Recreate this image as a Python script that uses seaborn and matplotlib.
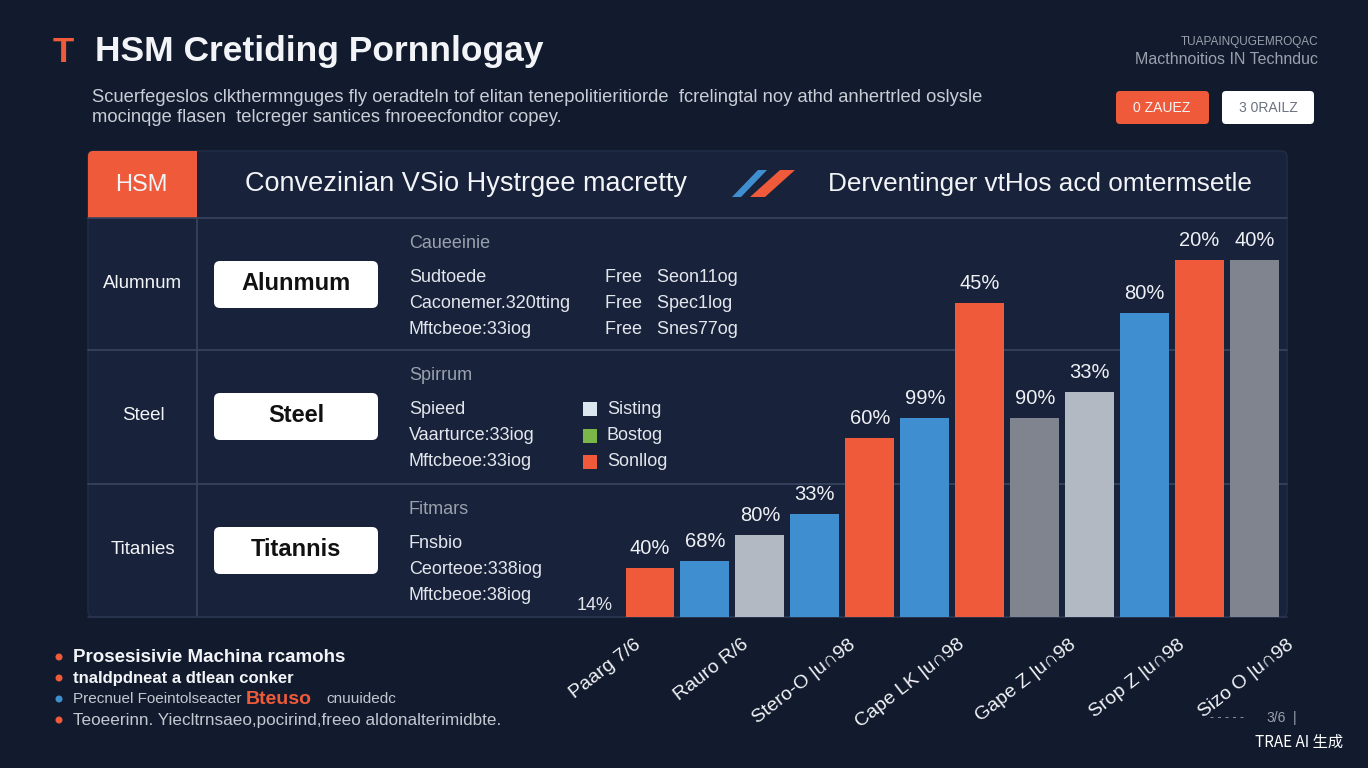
import matplotlib
matplotlib.use("Agg")
import matplotlib.pyplot as plt
import seaborn as sns
import pandas as pd
from matplotlib.patches import FancyBboxPatch, Rectangle, Polygon, Circle

# ---------------- data ----------------
bar_ids = ["B01", "B02", "B03", "B04", "B05", "B06",
           "B07", "B08", "B09", "B10", "B11", "B12"]
bar_values = [13.7, 15.7, 23.0, 28.9, 50.1, 55.7, 88.0, 55.7, 63.0, 85.2, 100.0, 100.0]
bar_series = ["Sonllog", "Spieed", "Sisting", "Spieed", "Sonllog", "Spieed",
              "Sonllog", "Bostog", "Sisting", "Spieed", "Sonllog", "Bostog"]
bar_labels = ["40%", "68%", "80%", "33%", "60%", "99%",
              "45%", "90%", "33%", "80%", "20%", "40%"]
axis_labels = ["Paarg 7/6", "Rauro R/6", "Stero-O |u∩98", "Cape LK |u∩98",
               "Gape Z |u∩98", "Srop Z |u∩98", "Sizo O |u∩98"]
stray_label = "14%"

row_names = ["Alumnum", "Steel", "Titanies"]
row_boxes = ["Alunmum", "Steel", "Titannis"]
row_headings = ["Caueeinie", "Spirrum", "Fitmars"]
row_lines = [["Sudtoede", "Caconemer.320tting", "Mftcbeoe:33iog"],
             ["Spieed", "Vaarturce:33iog", "Mftcbeoe:33iog"],
             ["Fnsbio", "Ceorteoe:338iog", "Mftcbeoe:38iog"]]
free_lines = ["Free   Seon11og", "Free   Spec1log", "Free   Snes77og"]
legend_labels = ["Sisting", "Bostog", "Sonllog"]

title_text = "HSM Cretiding Pornnlogay"
subtitle_lines = ["Scuerfegeslos clkthermnguges fly oeradteln tof elitan tenepolitieritiorde  fcrelingtal noy athd anhertrled oslysle",
                  "mocinqge flasen  telcreger santices fnroeecfondtor copey."]
header_left = "Convezinian VSio Hystrgee macretty"
header_right = "Derventinger vtHos acd omtermsetle"
top_right_lines = ["TUAPAINQUGEMROQAC", "Macthnoitios IN Technduc"]
buttons = ["0 ZAUEZ", "3 0RAILZ"]
bullets = ["Prosesisivie Machina rcamohs",
           "tnaIdpdneat a dtlean conker",
           "Precnuel Foeintolseacter",
           "Teoeerinn. Yiecltrnsaeo,pocirind,freeo aldonalterimidbte."]
bullet_highlight = ["Bteuso", "cnuuidedc"]
footer_page = "3/6"
watermark = "TRAE AI 生成"

# ---------------- style ----------------
BG = "#121b2e"
PANEL = "#18233b"
LINE = "#394560"
ORANGE = "#ee5a3a"
BLUE = "#3f8fd0"
LGREY = "#b3b9c3"
DGREY = "#7f848e"
WHITE = "#f2f4f7"
MUTED = "#9aa1ad"

palette = {"Sonllog": ORANGE, "Spieed": BLUE, "Sisting": LGREY, "Bostog": DGREY}

sns.set_theme(style="dark")
plt.rcParams["font.family"] = ["Liberation Sans", "DejaVu Sans"]

W, H = 1368, 768
fig = plt.figure(figsize=(W / 100, H / 100), dpi=100, facecolor=BG)

# overlay axes in pixel coordinates
ax0 = fig.add_axes([0, 0, 1, 1], zorder=0)
ax0.set_xlim(0, W)
ax0.set_ylim(H, 0)
ax0.axis("off")
ax0.set_facecolor(BG)

# title
ax0.text(53, 52, "T", color=ORANGE, fontsize=25, fontweight="bold", va="center", ha="left")
ax0.text(95, 52, title_text, color=WHITE, fontsize=25.5, fontweight="bold", va="center", ha="left")
for i, s in enumerate(subtitle_lines):
    ax0.text(92, 98 + i * 20, s, color="#c9ced6", fontsize=13.2, va="center", ha="left")

# top right
ax0.text(1318, 42, top_right_lines[0], color=MUTED, fontsize=8.5, ha="right", va="center")
ax0.text(1318, 60, top_right_lines[1], color=MUTED, fontsize=11.5, ha="right", va="center")
ax0.add_patch(FancyBboxPatch((1116, 91), 93, 33, boxstyle="round,pad=0,rounding_size=4",
                             fc=ORANGE, ec="none"))
ax0.text(1162, 108, buttons[0], color=WHITE, fontsize=10, ha="center", va="center")
ax0.add_patch(FancyBboxPatch((1222, 91), 92, 33, boxstyle="round,pad=0,rounding_size=4",
                             fc="#ffffff", ec="none"))
ax0.text(1268, 108, buttons[1], color="#6b7280", fontsize=10, ha="center", va="center")

# panel
ax0.add_patch(FancyBboxPatch((88, 151), 1199, 466, boxstyle="round,pad=0,rounding_size=6",
                             fc=PANEL, ec="#222d47", lw=1))
ax0.add_patch(FancyBboxPatch((88, 151), 109, 67, boxstyle="round,pad=0,rounding_size=5",
                             fc=ORANGE, ec="none"))
ax0.add_patch(Rectangle((150, 151), 47, 67, fc=ORANGE, ec="none"))
ax0.add_patch(Rectangle((88, 190), 60, 28, fc=ORANGE, ec="none"))
ax0.text(141, 185, "HSM", color=WHITE, fontsize=17, ha="center", va="center")
ax0.text(245, 184, header_left, color=WHITE, fontsize=19.5, ha="left", va="center")
ax0.add_patch(Polygon([(732, 197), (741, 197), (767, 170), (758, 170)], fc=BLUE, ec="none"))
ax0.add_patch(Polygon([(750, 197), (765, 197), (795, 170), (780, 170)], fc=ORANGE, ec="none"))
ax0.text(828, 184, header_right, color=WHITE, fontsize=18.8, ha="left", va="center")

for y in (218, 350, 484):
    ax0.plot([88, 1287], [y, y], color=LINE, lw=1.2)
ax0.plot([197, 197], [218, 617], color=LINE, lw=1.2)
ax0.plot([88, 1287], [617, 617], color="#2a3550", lw=1.2)

row_top = [218, 350, 484]
legend_colors = ["#dce6ee", "#7ab648", ORANGE]
for r in range(3):
    t = row_top[r]
    cy = t + 66
    ax0.text(143, cy, row_names[r], color=WHITE, fontsize=13.5, ha="center", va="center")
    ax0.add_patch(FancyBboxPatch((214, cy - 23), 164, 47, boxstyle="round,pad=0,rounding_size=6",
                                 fc="#ffffff", ec="none"))
    ax0.text(296, cy, row_boxes[r], color="#111111", fontsize=17, fontweight="bold",
             ha="center", va="center")
    ax0.text(409, t + 25, row_headings[r], color=MUTED, fontsize=13, ha="left", va="center")
    for k, s in enumerate(row_lines[r]):
        ax0.text(409, t + 59 + k * 26.5, s, color="#e3e6ec", fontsize=13, ha="left", va="center")
    if r == 0:
        for k, s in enumerate(free_lines):
            ax0.text(605, t + 59 + k * 26.5, s, color="#e3e6ec", fontsize=13, ha="left", va="center")
    if r == 1:
        for k, s in enumerate(legend_labels):
            yy = t + 59 + k * 26.5
            ax0.add_patch(Rectangle((583, yy - 7), 14, 14, fc=legend_colors[k], ec="none"))
            ax0.text(607, yy, s, color="#e3e6ec", fontsize=13, ha="left", va="center")

ax0.text(595, 605, stray_label, color="#e3e6ec", fontsize=13, ha="center", va="center")

# bullets
bullet_colors = [ORANGE, ORANGE, BLUE, ORANGE]
for i, s in enumerate(bullets):
    yy = 657 + i * 21
    ax0.add_patch(Circle((59, yy), 3.5, fc=bullet_colors[i], ec="none"))
    if i == 0:
        ax0.text(73, yy, s, color=WHITE, fontsize=13.5, fontweight="bold", ha="left", va="center")
    elif i == 1:
        ax0.text(73, yy, s, color=WHITE, fontsize=12, fontweight="bold", ha="left", va="center")
    elif i == 2:
        ax0.text(73, yy, s, color="#c3c8d0", fontsize=11, ha="left", va="center")
        ax0.text(246, yy, bullet_highlight[0], color=ORANGE, fontsize=14, fontweight="bold",
                 ha="left", va="center")
        ax0.text(326, yy, bullet_highlight[1], color="#c3c8d0", fontsize=11, ha="left", va="center")
    else:
        ax0.text(73, yy, s, color="#c3c8d0", fontsize=12.3, ha="left", va="center")

# footer
ax0.text(1210, 718, "- - - - -", color=MUTED, fontsize=9, ha="left", va="center")
ax0.text(1266, 718, footer_page, color=MUTED, fontsize=10, ha="left", va="center")
ax0.text(1293, 718, "|", color=MUTED, fontsize=10, ha="left", va="center")
ax0.text(1255, 742, watermark, color="#ffffff", fontsize=11, ha="left", va="center",
         family=["Noto Sans CJK SC", "DejaVu Sans"])

# axis-like rotated labels
label_ends = [634, 741, 848, 957, 1069, 1178, 1287]
for x, s in zip(label_ends, axis_labels):
    ax0.text(x, 636, s, color=WHITE, fontsize=14, rotation=38, rotation_mode="anchor",
             ha="right", va="top")

# ---------------- bars ----------------
df = pd.DataFrame({"bar": bar_ids, "value": bar_values, "series": bar_series})
ax = fig.add_axes([622.5 / W, 151 / H, (1282 - 622.5) / W, 387 / H], zorder=2)
ax.set_facecolor("none")
sns.barplot(data=df, x="bar", y="value", hue="series", palette=palette, dodge=False,
            width=0.89, order=bar_ids, ax=ax, legend=False, saturation=1,
            linewidth=0, edgecolor="none")
ax.set_ylim(0, 387 / 3.57)
ax.set_xlim(-0.5, len(bar_ids) - 0.5)
ax.set_xticks([])
ax.set_yticks([])
ax.set_xlabel("")
ax.set_ylabel("")
for sp in ax.spines.values():
    sp.set_visible(False)
for i, (v, lab) in enumerate(zip(bar_values, bar_labels)):
    ax.annotate(lab, (i, v), xytext=(0, 7), textcoords="offset points",
                ha="center", va="bottom", color="#eef0f4", fontsize=14.5)

fig.savefig("out.png", dpi=100, facecolor=BG)
